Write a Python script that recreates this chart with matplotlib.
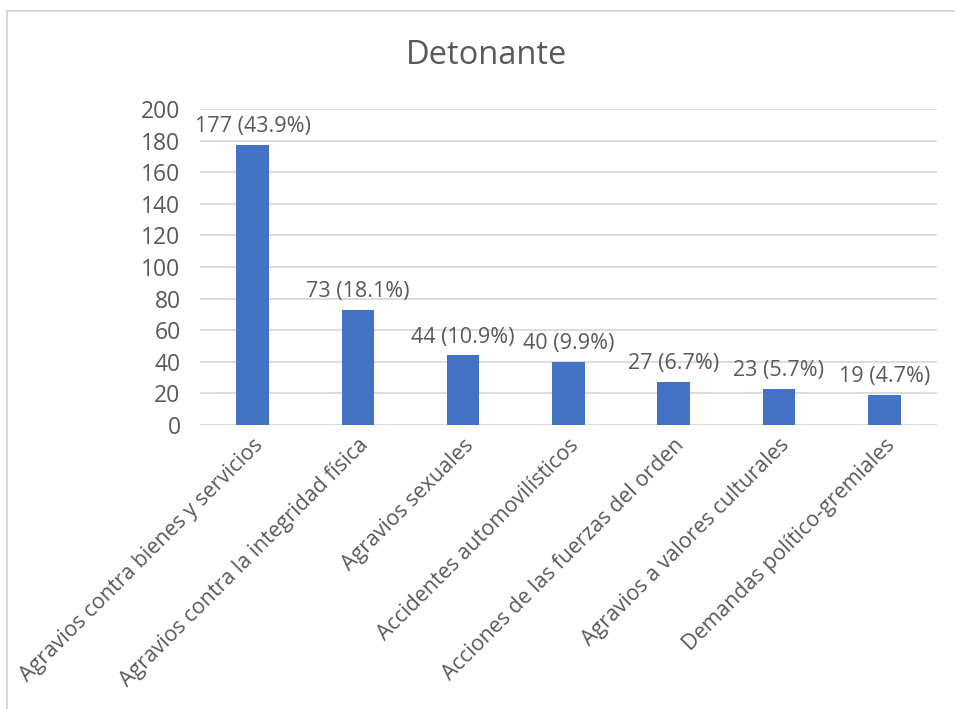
import matplotlib.pyplot as plt
from matplotlib.lines import Line2D

# Data
categories = ['Agravios contra bienes y servicios', 'Agravios contra la integridad física',
              'Agravios sexuales', 'Accidentes automovilísticos',
              'Acciones de las fuerzas del orden', 'Agravios a valores culturales',
              'Demandas político-gremiales']
counts = [177, 73, 44, 40, 27, 23, 19]
percents = [43.9, 18.1, 10.9, 9.9, 6.7, 5.7, 4.7]
yticks = [0, 20, 40, 60, 80, 100, 120, 140, 160, 180, 200]

text_color = '#595959'
plt.rcParams['font.family'] = ['Open Sans', 'DejaVu Sans']

fig = plt.figure(figsize=(9.55, 7.09), dpi=100)
ax = fig.add_axes([0.2094, 0.4006, 0.7716, 0.4457])

x = list(range(len(categories)))
bars = ax.bar(x, counts, width=0.31, color='#4472C4', zorder=3)

for xi, c, p in zip(x, counts, percents):
    ax.text(xi, c + 5, f'{c} ({p}%)', ha='center', va='bottom',
            fontsize=15.5, color=text_color)

ax.set_ylim(0, 200)
ax.set_xlim(-0.5, len(categories) - 0.5)
ax.set_yticks(yticks)
ax.yaxis.grid(True, color='#D9D9D9', linewidth=1.3, zorder=0)
ax.tick_params(axis='y', length=0, labelsize=16.5, labelcolor=text_color, pad=14)
ax.tick_params(axis='x', length=0, pad=7)
ax.set_xticks(x)
ax.set_xticklabels(categories, rotation=45, ha='right', rotation_mode='anchor',
                   fontsize=15.4, color=text_color)
for s in ax.spines.values():
    s.set_visible(False)
ax.axhline(0, color='#D9D9D9', linewidth=1.3, zorder=2)

fig.text(0.509, 1 - 55 / 709, 'Detonante', ha='center', va='center',
         fontsize=23.5, color=text_color)

# chart frame
fig.add_artist(Line2D([7 / 955, 1], [1 - 11 / 709, 1 - 11 / 709], color='#D9D9D9', linewidth=1.5))
fig.add_artist(Line2D([7 / 955, 7 / 955], [0, 1 - 11 / 709], color='#D9D9D9', linewidth=1.5))

fig.savefig('out.png', dpi=100)
